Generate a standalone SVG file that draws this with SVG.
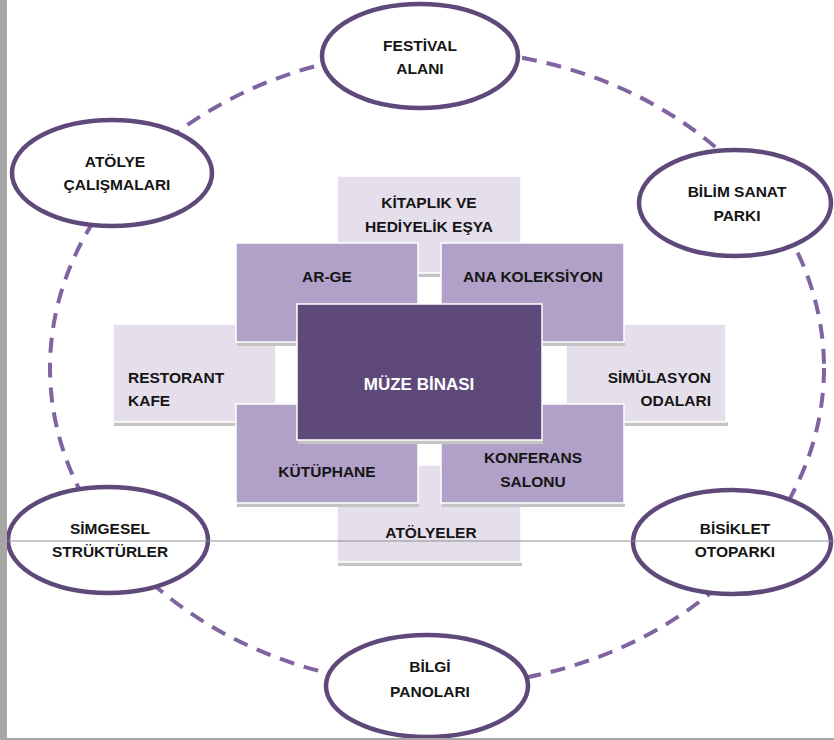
<svg xmlns="http://www.w3.org/2000/svg" width="834" height="740" viewBox="0 0 834 740">
<style>
.t{font-family:"Liberation Sans",Arial,sans-serif;font-weight:bold;font-size:15.5px;fill:#151515;text-anchor:middle}
.w{fill:#ffffff;font-size:17px}
.l{text-anchor:start}
.r{text-anchor:end}
.ell{fill:#ffffff;stroke:#5F497A;stroke-width:4.5}
.ring{fill:none;stroke:#8064A2;stroke-width:4;stroke-dasharray:15 10}
.lt{fill:#E5DFEC;stroke:#ffffff;stroke-width:1.5}
.md{fill:#B1A0C7;stroke:#ffffff;stroke-width:1.5}
.dk{fill:#5F497A;stroke:#ffffff;stroke-width:1.5}
.sh{fill:#c4c4c4}
</style>
<rect x="0" y="0" width="834" height="740" fill="#ffffff"/>
<g id="connectors">
<ellipse class="ring" cx="437" cy="368" rx="387" ry="318"/>
</g>
<g id="n-festival"><ellipse class="ell" cx="420" cy="56" rx="98" ry="52"/><text class="t" x="420" y="51">FESTİVAL</text><text class="t" x="420" y="74">ALANI</text></g>
<g id="n-atolye-cal"><ellipse class="ell" cx="112" cy="173" rx="100" ry="53"/><text class="t" x="115" y="167">ATÖLYE</text><text class="t" x="117" y="190">ÇALIŞMALARI</text></g>
<g id="n-bilim"><ellipse class="ell" cx="735" cy="203" rx="96" ry="53"/><text class="t" x="737" y="197">BİLİM SANAT</text><text class="t" x="737" y="221">PARKI</text></g>
<g id="n-simgesel"><ellipse class="ell" cx="108" cy="540" rx="100" ry="53"/><text class="t" x="110" y="534">SİMGESEL</text><text class="t" x="110" y="557">STRÜKTÜRLER</text></g>
<g id="n-bisiklet"><ellipse class="ell" cx="732" cy="542" rx="99" ry="52"/><text class="t" x="735" y="534">BİSİKLET</text><text class="t" x="735" y="557">OTOPARKI</text></g>
<g id="n-bilgi"><ellipse class="ell" cx="427" cy="686" rx="101" ry="51"/><text class="t" x="430" y="672">BİLGİ</text><text class="t" x="430" y="697">PANOLARI</text></g>

<g id="n-kitaplik"><rect class="sh" x="338" y="273" width="184" height="4"/><rect class="lt" x="337" y="176" width="184" height="97"/><text class="t" x="429" y="208">KİTAPLIK VE</text><text class="t" x="429" y="232">HEDİYELİK EŞYA</text></g>
<g id="n-atolyeler"><rect class="sh" x="338" y="562" width="184" height="4"/><rect class="lt" x="337" y="465" width="184" height="97"/><text class="t" x="431" y="538">ATÖLYELER</text></g>
<g id="n-restorant"><rect class="sh" x="114" y="422" width="163" height="4"/><rect class="lt" x="113" y="324" width="163" height="98"/><text class="t l" x="128" y="383">RESTORANT</text><text class="t l" x="128" y="406">KAFE</text></g>
<g id="n-simulasyon"><rect class="sh" x="567" y="422" width="161" height="4"/><rect class="lt" x="566" y="324" width="160" height="98"/><text class="t r" x="711" y="383">SİMÜLASYON</text><text class="t r" x="711" y="406">ODALARI</text></g>

<g id="n-arge"><rect class="sh" x="237" y="342" width="182" height="4"/><rect class="md" x="236" y="243" width="182" height="99"/><text class="t" x="327" y="282">AR-GE</text></g>
<g id="n-ana"><rect class="sh" x="442" y="342" width="183" height="4"/><rect class="md" x="441" y="243" width="183" height="99"/><text class="t" x="533" y="282">ANA KOLEKSİYON</text></g>
<g id="n-kutuphane"><rect class="sh" x="237" y="503" width="182" height="4"/><rect class="md" x="236" y="404" width="182" height="99"/><text class="t" x="327" y="477">KÜTÜPHANE</text></g>
<g id="n-konferans"><rect class="sh" x="442" y="503" width="183" height="4"/><rect class="md" x="441" y="404" width="183" height="99"/><text class="t" x="533" y="463">KONFERANS</text><text class="t" x="533" y="487">SALONU</text></g>

<g id="n-muze"><rect class="sh" x="298" y="440" width="245" height="4"/><rect class="dk" x="297" y="304" width="245" height="136"/><text class="t w" x="419" y="390">MÜZE BİNASI</text></g>

<rect x="7" y="540.5" width="827" height="1" fill="#8f8f8f"/>
<rect x="0" y="0" width="7" height="740" fill="#a6a6a6"/>
<rect x="7" y="738" width="827" height="2" fill="#a6a6a6"/>
</svg>
